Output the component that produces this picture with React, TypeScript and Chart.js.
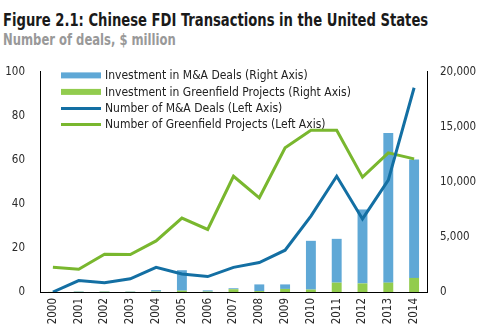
import React, { useEffect, useRef } from "react";
import { Chart, registerables } from "chart.js";

Chart.register(...registerables);

const years = ["2000","2001","2002","2003","2004","2005","2006","2007","2008","2009","2010","2011","2012","2013","2014"];
// Left axis: number of deals
const maDeals = [0, 5.2, 4.2, 6, 11.2, 8.2, 7, 11.2, 13.4, 19, 34.5, 52.6, 33.2, 50.8, 92.8];
const greenfieldProjects = [11.2, 10.3, 17.2, 17, 23.2, 33.6, 28.4, 52.6, 42.8, 65.5, 73.5, 73.5, 52.2, 63.2, 60.5];
// Right axis: $ million
const maInvestment = [0, 40, 30, 30, 130, 1860, 110, 90, 610, 410, 4430, 3980, 6720, 13600, 10750];
const greenfieldInvestment = [10, 20, 30, 20, 40, 120, 40, 250, 80, 280, 220, 850, 780, 850, 1280];
const leftTicks = [0, 20, 40, 60, 80, 100];
const rightTicks = [0, 5000, 10000, 15000, 20000];

const FONT = "'DejaVu Sans Condensed', 'DejaVu Sans', sans-serif";
const C_MA_BAR = "#5fa8d6";
const C_GF_BAR = "#92cc4e";
const C_MA_LINE = "#136fa3";
const C_GF_LINE = "#79b72e";

const legendPlugin = {
  id: "innerLegend",
  afterDatasetsDraw(chart: any) {
    const { ctx, chartArea } = chart;
    const items = [
      { ds: 3, kind: "bar" },
      { ds: 2, kind: "bar" },
      { ds: 0, kind: "line" },
      { ds: 1, kind: "line" },
    ];
    const rows = [3.5, 20, 36.5, 52.5];
    ctx.save();
    ctx.font = "12px " + FONT;
    ctx.textBaseline = "middle";
    ctx.textAlign = "left";
    items.forEach((it, i) => {
      const ds = chart.data.datasets[it.ds];
      const y = chartArea.top + rows[i];
      const x0 = chartArea.left + 21;
      if (it.kind === "bar") {
        ctx.fillStyle = ds.backgroundColor;
        ctx.fillRect(x0, y - 3, 40, 6);
      } else {
        ctx.strokeStyle = ds.borderColor;
        ctx.lineWidth = 3;
        ctx.beginPath();
        ctx.moveTo(x0, y);
        ctx.lineTo(x0 + 40, y);
        ctx.stroke();
      }
      ctx.fillStyle = "#222";
      ctx.fillText(ds.label, chartArea.left + 65, y + 0.5);
    });
    ctx.restore();
  },
};

export default function App() {
  const ref = useRef<HTMLCanvasElement>(null);
  useEffect(() => {
    if (!ref.current) return;
    const tickFont = { family: FONT, size: 11.5 };
    const chart = new Chart(ref.current, {
      type: "bar",
      data: {
        labels: years,
        datasets: [
          {
            type: "line",
            label: "Number of M&A Deals (Left Axis)",
            data: maDeals,
            borderColor: C_MA_LINE,
            backgroundColor: C_MA_LINE,
            borderWidth: 3,
            pointRadius: 0,
            tension: 0,
            yAxisID: "y",
            order: 0,
          } as any,
          {
            type: "line",
            label: "Number of Greenfield Projects (Left Axis)",
            data: greenfieldProjects,
            borderColor: C_GF_LINE,
            backgroundColor: C_GF_LINE,
            borderWidth: 3,
            pointRadius: 0,
            tension: 0,
            yAxisID: "y",
            order: 0,
          },
          {
            type: "bar",
            label: "Investment in Greenfield Projects (Right Axis)",
            data: greenfieldInvestment,
            backgroundColor: C_GF_BAR,
            yAxisID: "y1",
            stack: "inv",
            order: 1,
            barPercentage: 0.8,
            categoryPercentage: 0.48,
          },
          {
            type: "bar",
            label: "Investment in M&A Deals (Right Axis)",
            data: maInvestment,
            backgroundColor: C_MA_BAR,
            yAxisID: "y1",
            stack: "inv",
            order: 1,
            barPercentage: 0.8,
            categoryPercentage: 0.48,
          },
        ],
      },
      options: {
        animation: false,
        responsive: false,
        maintainAspectRatio: false,
        layout: { padding: { top: 10, left: 0, right: 0, bottom: 0 } },
        plugins: { legend: { display: false }, tooltip: { enabled: false }, title: { display: false } },
        scales: {
          x: {
            type: "category",
            offset: true,
            stacked: true,
            grid: { display: false, drawTicks: false },
            border: { display: true, color: "#000", width: 1 },
            ticks: {
              minRotation: 90,
              maxRotation: 90,
              autoSkip: false,
              padding: 6,
              color: "#2a2a2a",
              font: tickFont,
            },
            afterFit: (s: any) => { s.height = 43; },
          },
          y: {
            type: "linear",
            position: "left",
            min: 0,
            max: 100,
            afterBuildTicks: (s: any) => { s.ticks = leftTicks.map((v) => ({ value: v })); },
            grid: { display: false, drawTicks: false },
            border: { display: true, color: "#000", width: 1 },
            ticks: { padding: 15, color: "#2a2a2a", font: tickFont },
            afterFit: (s: any) => { s.width = 40; },
          },
          y1: {
            type: "linear",
            position: "right",
            stacked: true,
            min: 0,
            max: 20000,
            afterBuildTicks: (s: any) => { s.ticks = rightTicks.map((v) => ({ value: v })); },
            grid: { display: false, drawTicks: false },
            border: { display: true, color: "#000", width: 1 },
            ticks: {
              padding: 13,
              color: "#2a2a2a",
              font: tickFont,
              callback: (v: any) => Number(v).toLocaleString("en-US"),
            },
            afterFit: (s: any) => { s.width = 56; },
          },
        },
      },
      plugins: [legendPlugin],
    });
    return () => chart.destroy();
  }, []);

  return (
    <div style={{ position: "absolute", left: 0, top: 0, width: 483, height: 335, background: "#fff", overflow: "hidden" }}>
      <div style={{ position: "absolute", left: 3, top: 9, fontFamily: FONT, fontWeight: "bold", fontSize: 17, color: "#1a1a1a", whiteSpace: "nowrap", lineHeight: "22px", transform: "scaleX(0.86)", transformOrigin: "0 0" }}>
        Figure 2.1: Chinese FDI Transactions in the United States
      </div>
      <div style={{ position: "absolute", left: 3, top: 31, fontFamily: FONT, fontWeight: "bold", fontSize: 15, color: "#999", whiteSpace: "nowrap", lineHeight: "18px", transform: "scaleX(0.86)", transformOrigin: "0 0" }}>
        Number of deals, $ million
      </div>
      <canvas ref={ref} width={483} height={285} style={{ position: "absolute", left: 0, top: 50, width: 483, height: 285 }} />
    </div>
  );
}
